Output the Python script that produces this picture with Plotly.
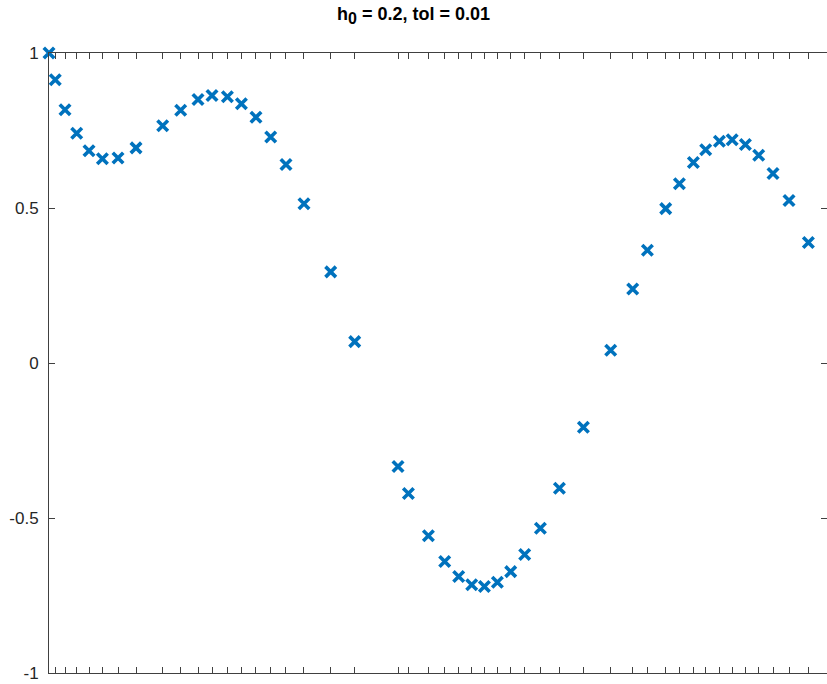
import plotly.graph_objects as go

# Time points (adaptive steps) and solution values
t = [0.0, 0.2, 0.511, 0.885, 1.278, 1.706, 2.204, 2.779, 3.631, 4.206,
     4.759, 5.206, 5.698, 6.145, 6.611, 7.081, 7.569, 8.144, 8.997, 9.764,
     11.147, 11.479, 12.118, 12.638, 13.085, 13.501, 13.906, 14.321, 14.746, 15.193,
     15.695, 16.302, 17.068, 17.940, 18.643, 19.112, 19.697, 20.134, 20.581, 20.974,
     21.412, 21.820, 22.242, 22.667, 23.124, 23.635, 24.254, 24.95]
y = [1.0, 0.914, 0.817, 0.741, 0.685, 0.659, 0.661, 0.694, 0.765, 0.815,
     0.850, 0.863, 0.859, 0.836, 0.793, 0.729, 0.640, 0.514, 0.294, 0.069,
     -0.334, -0.421, -0.557, -0.640, -0.689, -0.715, -0.721, -0.707, -0.673, -0.618,
     -0.533, -0.404, -0.207, 0.041, 0.239, 0.364, 0.498, 0.578, 0.647, 0.688,
     0.715, 0.720, 0.705, 0.670, 0.611, 0.524, 0.389, 0.192]

y_ticks = [-1, -0.5, 0, 0.5, 1]
y_tick_labels = ["-1", "-0.5", "0", "0.5", "1"]

blue = "#0072BD"
axis_col = "#404040"
marker_style = dict(symbol="x-thin", size=10.5, color=blue,
                    line=dict(width=3.6, color=blue))

fig = go.Figure()
# all points except the final one: drawn unclipped (first marker overlaps the axis)
fig.add_trace(go.Scatter(
    x=t[:-1], y=y[:-1], mode="markers", cliponaxis=False, hoverinfo="skip",
    marker=marker_style,
))
# final point lies at the right border of the (cropped) axes: clipped
fig.add_trace(go.Scatter(
    x=t[-1:], y=y[-1:], mode="markers", cliponaxis=True, hoverinfo="skip",
    marker=marker_style,
))

fig.update_layout(
    width=827, height=684,
    margin=dict(l=49, r=0, t=53, b=11, autoexpand=False),
    paper_bgcolor="white", plot_bgcolor="white",
    showlegend=False,
    font=dict(family="Liberation Sans, Arial, sans-serif", color="#262626"),
    title=dict(text="<b>h<sub><span style='font-size:16px'>0</span></sub> = 0.2, tol = 0.01</b>",
               x=0.5, xref="container", xanchor="center",
               y=670/684, yref="container", yanchor="middle",
               font=dict(size=18, color="#000000")),
)

fig.update_xaxes(
    range=[0, 778 / 31.31], showgrid=False, zeroline=False,
    tickmode="array", tickvals=t, showticklabels=False,
    ticks="inside", ticklen=6, tickwidth=1, tickcolor=axis_col,
    showline=True, linecolor=axis_col, linewidth=1, mirror="allticks",
)
fig.update_yaxes(
    range=[-1, 1], showgrid=False, zeroline=False,
    tickmode="array", tickvals=y_ticks, ticktext=y_tick_labels,
    ticks="inside", ticklen=6, tickwidth=1, tickcolor=axis_col,
    tickfont=dict(size=17, color="#262626"), ticklabelstandoff=6,
    showline=True, linecolor=axis_col, linewidth=1, mirror="allticks",
)

fig.write_html("out.html")
